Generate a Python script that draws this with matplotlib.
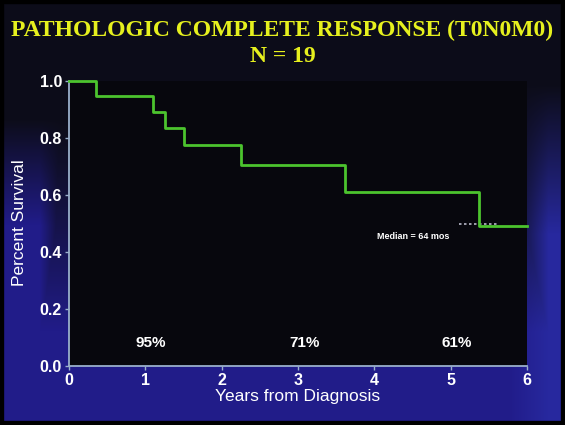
import numpy as np
import matplotlib
matplotlib.use('Agg')
import matplotlib.pyplot as plt
from matplotlib.patches import Rectangle

# Kaplan-Meier steps (years, survival fraction)
years = [0, 0.36, 1.10, 1.26, 1.51, 2.25, 3.62, 5.37, 6.0]
survival = [1.0, 0.947, 0.891, 0.835, 0.775, 0.704, 0.609, 0.49, 0.49]

# survival rates annotated at 1, 3, 5 years
rate_x = [1.07, 3.09, 5.08]
rate_labels = ['95%', '71%', '61%']

median_span = [5.11, 5.64]
median_level = 0.497

xticks = [0, 1, 2, 3, 4, 5, 6]
yticks = [0.0, 0.2, 0.4, 0.6, 0.8, 1.0]

fig = plt.figure(figsize=(5.65, 4.25), dpi=100)

# slide background: dark at top, blue towards bottom and edges
bg = fig.add_axes([0, 0, 1, 1], zorder=-10)
h, w = 425, 565
yy, xx = np.mgrid[0:h, 0:w]
yf = yy / h
xf = xx / w
tv = np.clip((yf - 0.28) / 0.5, 0, 1) ** 1.2
tr = np.clip((xf - 0.90) / 0.07, 0, 1) * np.clip((yf - 0.2) / 0.35, 0, 1)
tl = np.clip((0.12 - xf) / 0.05, 0, 1) * np.clip((yf - 0.28) / 0.25, 0, 1)
t = np.clip(np.maximum(tv, np.maximum(tr, tl)), 0, 1)
dark = np.array([0.05, 0.05, 0.10])
blue = np.array([0.13, 0.11, 0.54])
img = dark[None, None, :] * (1 - t[..., None]) + blue[None, None, :] * t[..., None]
img = img + 0.08 * tr[..., None] * np.array([0.3, 0.6, 1.0])
bg.imshow(np.clip(img, 0, 1), aspect='auto', extent=[0, 1, 0, 1], origin='upper')
bg.set_axis_off()

ax = fig.add_axes([0.1221, 0.1388, 0.8106, 0.6706])
ax.set_facecolor('#07070d')
ax.step(years, survival, where='post', color='#4cc42e', lw=2.0, clip_on=False, zorder=3)
ax.plot(median_span, [median_level, median_level], color='#b8b8c8', lw=1.2,
        ls=(0, (1.5, 1.5)), zorder=2)

for x, lab in zip(rate_x, rate_labels):
    ax.text(x, 0.08, lab, color='white', fontsize=11, fontweight='bold',
            ha='center', va='center', family='Liberation Sans')
ax.text(4.51, 0.454, 'Median = 64 mos', color='white', fontsize=6.5, fontweight='bold',
        ha='center', va='center', family='Liberation Sans')

ax.set_xlim(0, 6)
ax.set_ylim(0, 1.0)
ax.set_xticks(xticks)
ax.set_yticks(yticks)
ax.set_xticklabels([str(v) for v in xticks])
ax.set_yticklabels([f'{v:.1f}' for v in yticks])
for s in ['top', 'right']:
    ax.spines[s].set_visible(False)
for s in ['left', 'bottom']:
    ax.spines[s].set_color('#9ab0cc')
    ax.spines[s].set_linewidth(1.3)
ax.tick_params(colors='#9ab0cc', length=3, width=1, direction='out', pad=2)
for lab in ax.get_xticklabels() + ax.get_yticklabels():
    lab.set_color('white')
    lab.set_fontsize(11.5)
    lab.set_fontweight('bold')
    lab.set_family('Liberation Sans')

ax.set_xlabel('Years from Diagnosis', color='white', fontsize=12.5,
              family='Liberation Sans', labelpad=1)
fig.text(0.034, 0.475, 'Percent Survival', color='white', fontsize=12.5,
         family='Liberation Sans', rotation=90, ha='center', va='center')

fig.text(0.5, 0.928, 'PATHOLOGIC COMPLETE RESPONSE (T0N0M0)', color='#e6f01e',
         fontsize=17, fontweight='bold', family='Liberation Serif',
         ha='center', va='center')
fig.text(0.5, 0.868, 'N = 19', color='#e6f01e', fontsize=17, fontweight='bold',
         family='Liberation Serif', ha='center', va='center')

# black slide frame
fig.patches.append(Rectangle((0, 0), 1, 1, transform=fig.transFigure, fill=False,
                             edgecolor='black', lw=6, zorder=20))

fig.savefig('out.png', dpi=100)
